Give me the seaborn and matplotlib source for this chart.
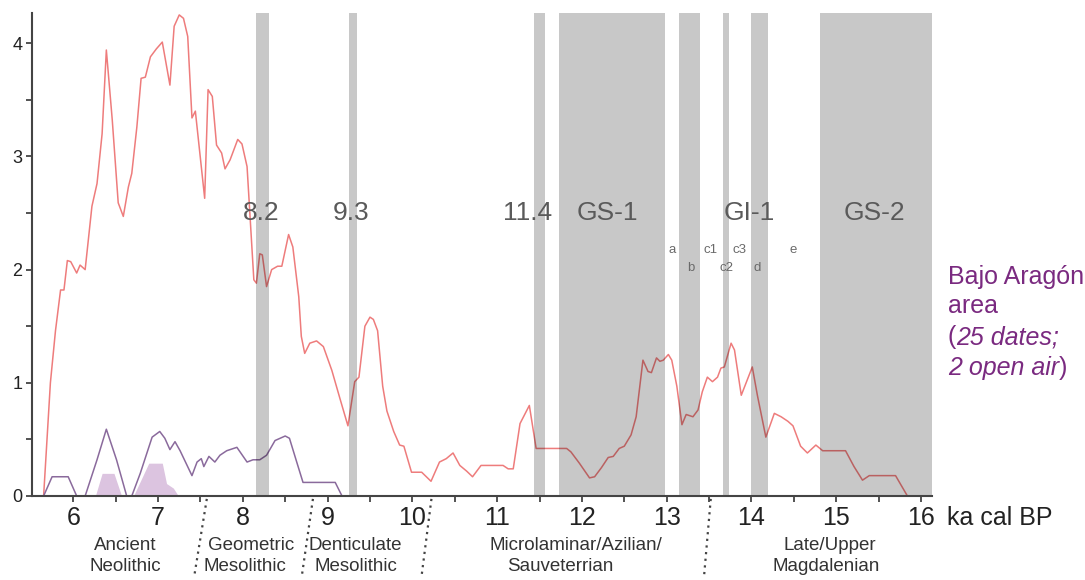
import matplotlib
matplotlib.use("Agg")
import matplotlib.pyplot as plt
import seaborn as sns
import pandas as pd

# ---------------- data ----------------
red_x = [5.65, 5.73, 5.79, 5.85, 5.89, 5.93, 5.97, 6.04, 6.08, 6.14, 6.22, 6.28, 6.34, 6.39,
         6.46, 6.53, 6.59, 6.65, 6.69, 6.75, 6.80, 6.85, 6.91, 6.98, 7.05, 7.14, 7.19, 7.25,
         7.30, 7.35, 7.40, 7.44, 7.48, 7.55, 7.59, 7.64, 7.69, 7.75, 7.79, 7.85, 7.94, 7.99,
         8.05, 8.13, 8.16, 8.20, 8.23, 8.28, 8.34, 8.41, 8.46, 8.54, 8.59, 8.66, 8.69, 8.73,
         8.79, 8.87, 8.95, 9.05, 9.15, 9.24, 9.32, 9.37, 9.44, 9.50, 9.54, 9.59, 9.65, 9.70,
         9.78, 9.85, 9.90, 9.99, 10.11, 10.22, 10.32, 10.40, 10.48, 10.56, 10.64, 10.71,
         10.81, 10.91, 11.07, 11.13, 11.19, 11.27, 11.38, 11.46, 11.82, 11.87, 11.97, 12.09,
         12.15, 12.23, 12.31, 12.37, 12.44, 12.50, 12.58, 12.64, 12.72, 12.78, 12.82, 12.88,
         12.92, 12.96, 13.02, 13.06, 13.12, 13.18, 13.23, 13.31, 13.37, 13.42, 13.48, 13.54,
         13.60, 13.64, 13.68, 13.76, 13.80, 13.88, 14.01, 14.07, 14.17, 14.27, 14.35, 14.43,
         14.49, 14.58, 14.66, 14.76, 14.84, 15.11, 15.21, 15.31, 15.39, 15.70, 15.84]
red_y = [0.00, 1.00, 1.46, 1.82, 1.82, 2.08, 2.07, 1.97, 2.04, 2.00, 2.56, 2.76, 3.20, 3.94,
         3.32, 2.59, 2.47, 2.73, 2.85, 3.26, 3.69, 3.70, 3.88, 3.95, 4.01, 3.63, 4.15, 4.25,
         4.22, 4.06, 3.34, 3.40, 3.12, 2.63, 3.59, 3.53, 3.10, 3.03, 2.89, 2.97, 3.15, 3.11,
         2.91, 1.91, 1.88, 2.14, 2.13, 1.85, 2.00, 2.03, 2.03, 2.31, 2.20, 1.76, 1.41, 1.26,
         1.35, 1.37, 1.32, 1.11, 0.85, 0.62, 1.01, 1.05, 1.50, 1.58, 1.56, 1.46, 0.97, 0.75,
         0.57, 0.45, 0.44, 0.21, 0.21, 0.13, 0.30, 0.33, 0.38, 0.27, 0.22, 0.17,
         0.27, 0.27, 0.27, 0.24, 0.24, 0.64, 0.80, 0.42, 0.42, 0.39, 0.29, 0.16,
         0.17, 0.25, 0.34, 0.35, 0.42, 0.44, 0.54, 0.70, 1.20, 1.10, 1.09, 1.22,
         1.19, 1.20, 1.25, 1.20, 0.97, 0.63, 0.72, 0.70, 0.76, 0.92, 1.05, 1.01,
         1.05, 1.13, 1.14, 1.35, 1.29, 0.89, 1.14, 0.89, 0.52, 0.73, 0.70, 0.66,
         0.62, 0.44, 0.38, 0.45, 0.40, 0.40, 0.26, 0.14, 0.18, 0.18, 0.00]

purple_x = [5.65, 5.75, 5.94, 6.04, 6.14, 6.28, 6.39, 6.51, 6.63, 6.69, 6.79, 6.93, 7.02, 7.08,
            7.14, 7.20, 7.26, 7.40, 7.46, 7.51, 7.54, 7.60, 7.67, 7.73, 7.81, 7.93, 8.05, 8.12,
            8.20, 8.28, 8.38, 8.50, 8.55, 8.64, 8.71, 9.09, 9.17]
purple_y = [0.00, 0.17, 0.17, 0.00, 0.00, 0.32, 0.59, 0.32, 0.00, 0.00, 0.20, 0.52, 0.57, 0.51,
            0.41, 0.48, 0.40, 0.18, 0.30, 0.33, 0.26, 0.35, 0.30, 0.36, 0.40, 0.43, 0.30, 0.32,
            0.32, 0.36, 0.49, 0.53, 0.51, 0.29, 0.12, 0.12, 0.00]

fill_x = [6.26, 6.34, 6.48, 6.57, 6.71, 6.89, 7.05, 7.10, 7.18, 7.24]
fill_y = [0.00, 0.20, 0.20, 0.00, 0.00, 0.29, 0.29, 0.11, 0.07, 0.00]

band_start = [8.16, 9.25, 11.44, 11.73, 13.15, 13.66, 13.99, 14.81]
band_end = [8.31, 9.35, 11.57, 12.98, 13.39, 13.74, 14.19, 16.13]

event_labels = ["8.2", "9.3", "11.4", "GS-1", "GI-1", "GS-2"]
event_x = [8.22, 9.28, 11.36, 12.30, 13.97, 15.45]

sub_labels = ["a", "b", "c1", "c2", "c3", "d", "e"]
sub_x = [13.07, 13.28, 13.52, 13.70, 13.86, 14.07, 14.49]
sub_y = [2.17, 2.01, 2.17, 2.01, 2.17, 2.01, 2.17]

period_lines = ["Ancient", "Neolithic", "Geometric", "Mesolithic", "Denticulate", "Mesolithic",
                "Microlaminar/Azilian/", "Sauveterrian", "Late/Upper", "Magdalenian"]
period_x = [6.61, 6.61, 8.10, 8.03, 9.33, 9.33, 11.93, 11.75, 14.93, 14.88]
period_row = [0, 1, 0, 1, 0, 1, 0, 1, 0, 1]

divider_top = [7.575, 8.827, 10.225, 13.52]
divider_bottom = [7.425, 8.694, 10.107, 13.44]

x_ticks = [6, 7, 8, 9, 10, 11, 12, 13, 14, 15, 16]
y_ticks = [0, 1, 2, 3, 4]

# ---------------- style ----------------
sns.set_style("ticks")
plt.rcParams["font.family"] = ["Liberation Sans", "DejaVu Sans"]

fig = plt.figure(figsize=(10.85, 5.8), dpi=100)
ax = fig.add_axes([32 / 1085, 1 - 496 / 580, 900 / 1085, 483 / 580])

red_df = pd.DataFrame({"ka": red_x, "v": red_y})
pur_df = pd.DataFrame({"ka": purple_x, "v": purple_y})

ax.fill_between(fill_x, 0, fill_y, color="#dcc4e0", lw=0, zorder=1)
sns.lineplot(data=red_df, x="ka", y="v", ax=ax, color="#ee7c7c", lw=1.1,
             estimator=None, sort=False, zorder=2)
sns.lineplot(data=pur_df, x="ka", y="v", ax=ax, color="#8a6a9c", lw=1.1,
             estimator=None, sort=False, zorder=2)

for a, b in zip(band_start, band_end):
    ax.axvspan(a, b, color="black", alpha=0.215, lw=0, zorder=3)

for t, x in zip(event_labels, event_x):
    ax.text(x, 2.5, t, ha="center", va="center", fontsize=19, color="#5a5a5a", zorder=5)
for t, x, y in zip(sub_labels, sub_x, sub_y):
    ax.text(x, y, t, ha="center", va="center", fontsize=9.5, color="#6a6a6a", zorder=5)

ax.set_xlim(5.513, 16.13)
ax.set_ylim(0, 4.267)
ax.set_xticks(x_ticks)
ax.set_xticklabels([str(v) for v in x_ticks])
ax.set_xticks([v + 0.5 for v in x_ticks[:-1]], minor=True)
ax.set_yticks(y_ticks)
ax.set_yticklabels([str(v) for v in y_ticks])
ax.set_yticks([v + 0.5 for v in y_ticks[:-1]], minor=True)
ax.set_xlabel("")
ax.set_ylabel("")

for s in ["top", "right"]:
    ax.spines[s].set_visible(False)
for s in ["left", "bottom"]:
    ax.spines[s].set_color("#444444")
    ax.spines[s].set_linewidth(1.5)
    ax.spines[s].set_zorder(6)

ax.tick_params(axis="x", which="both", direction="out", length=4, width=1.3,
               color="#444444", labelsize=18, labelcolor="#222222", pad=3)
ax.tick_params(axis="y", which="both", direction="out", length=4, width=1.3,
               color="#444444", labelsize=13, labelcolor="#222222", pad=3)

xt = ax.get_xaxis_transform()
ax.text(16.31, -0.046, "ka cal BP", transform=xt, ha="left", va="center",
        fontsize=18, color="#222222", clip_on=False)

row_y = [-0.102, -0.146]
for t, x, r in zip(period_lines, period_x, period_row):
    ax.text(x, row_y[r], t, transform=xt, ha="center", va="center",
            fontsize=13.5, color="#333333", clip_on=False)

for x0, x1 in zip(divider_top, divider_bottom):
    ax.plot([x0, x1], [-0.006, -0.168], transform=xt, color="#444444", lw=1.6,
            ls=(0, (1, 2)), clip_on=False)

# legend text (purple)
pc = "#7a2a80"
lx = 948 / 1085
ly = [1 - 277 / 580, 1 - 306 / 580, 1 - 337 / 580, 1 - 368 / 580]
fig.text(lx, ly[0], "Bajo Aragón", fontsize=18, color=pc, va="center", ha="left")
fig.text(lx, ly[1], "area", fontsize=18, color=pc, va="center", ha="left")
fig.canvas.draw()
rend = fig.canvas.get_renderer()
t1 = fig.text(lx, ly[2], "(", fontsize=18, color=pc, va="center", ha="left")
w = t1.get_window_extent(rend).width / fig.bbox.width
fig.text(lx + w, ly[2], "25 dates;", fontsize=18, color=pc, va="center", ha="left",
         style="italic")
t2 = fig.text(lx, ly[3], "2 open air", fontsize=18, color=pc, va="center", ha="left",
              style="italic")
w2 = t2.get_window_extent(rend).width / fig.bbox.width
fig.text(lx + w2, ly[3], ")", fontsize=18, color=pc, va="center", ha="left")

fig.savefig("out.png", dpi=100)
